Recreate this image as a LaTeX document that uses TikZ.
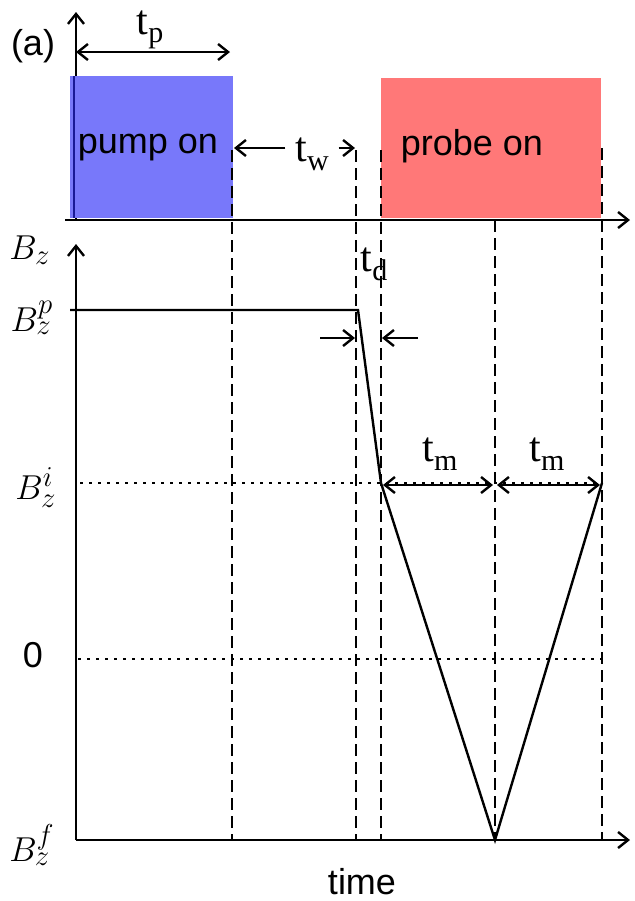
\documentclass[tikz,border=0pt]{standalone}
\usepackage{fontspec}
\setsansfont{Liberation Sans}
\newfontfamily\tfont{Liberation Serif}
\usetikzlibrary{arrows.meta}
\definecolor{pumpblue}{RGB}{120,120,250}
\definecolor{probered}{RGB}{255,120,120}
\definecolor{navy}{RGB}{25,25,150}
\newcommand{\tlab}[1]{t\raisebox{-0.45ex}{\fontsize{15}{15}\selectfont #1}}
\begin{document}
\begin{tikzpicture}[x=0.5pt,y=-0.5pt,line width=1.2pt,
    >={Straight Barb[length=5pt,width=8pt]},
    guide/.style={line width=1.1pt,dash pattern=on 6pt off 3pt},
    level/.style={line width=1.1pt,dash pattern=on 1.5pt off 3pt},
    txt/.style={font=\fontsize{18}{20}\sffamily},
    tl/.style={font=\fontsize{21}{23}\tfont},
    bl/.style={font=\fontsize{19}{21}\selectfont,inner sep=1pt}]
    \useasboundingbox (0,0) rectangle (634,901);
    % pulse panel
    \coordinate (o1) at (76,220);
    \draw[->] (o1) -- (76,12);
    \fill[pumpblue] (70,76) rectangle (233,218);
    \fill[probered] (381,78) rectangle (601,218);
    \draw[navy] (74,76) -- (74,218);
    \draw[->] (65,220) -- (630,220);
    \node[txt] (pump) at (148,148) {pump on};
    \node[txt] (probe) at (472,146) {probe on};
    \node[txt] (a) at (33,46) {(a)};
    \draw[<->] (76,52) -- (230,52);
    \node[tl] (tp) at (150,30) {\tlab{p}};
    \node[tl] (tw) at (312,154) {\tlab{w}};
    \draw[->] (tw.west) ++(-2,-6) -- (234,148);
    \draw[->] (tw.east) ++(2,-6) -- (355,148);
    % field panel
    \foreach \x/\y in {232/150, 356/150, 381/150, 495/220, 602/148}
        \draw[guide] (\x,\y) -- (\x,840);
    \coordinate (o2) at (76,840);
    \draw[->] (o2) -- (76,244);
    \draw[->] (o2) -- (630,840);
    \draw[level] (80,483) -- (602,483);
    \draw[level] (78,659) -- (602,659);
    \coordinate (p0) at (70,310);
    \coordinate (p1) at (358,310);
    \coordinate (p2) at (381,483);
    \coordinate (p3) at (495,840);
    \coordinate (p4) at (602,483);
    \draw (p0) -- (p1) -- (p2) -- (p3) -- (p4);
    \node[bl] (bz) at (30,250) {$B_z$};
    \node[bl] (bzp) at (32,318) {$B_z^p$};
    \node[bl] (bzi) at (36,488) {$B_z^i$};
    \node[bl] (bzf) at (32,845) {$B_z^f$};
    \node[txt] (zero) at (33,655) {0};
    \node[txt] (time) at (362,882) {time};
    \node[tl] (td) at (374,264) {\tlab{d}};
    \draw[->] (320,338) -- (355,338);
    \draw[->] (418,338) -- (382,338);
    \draw[<->] (p2) ++(2,2) -- (493,485);
    \draw[<->] (497,485) -- (600,485);
    \node[tl] (tm1) at (440,454) {\tlab{m}};
    \node[tl] (tm2) at (547,454) {\tlab{m}};
\end{tikzpicture}
\end{document}
